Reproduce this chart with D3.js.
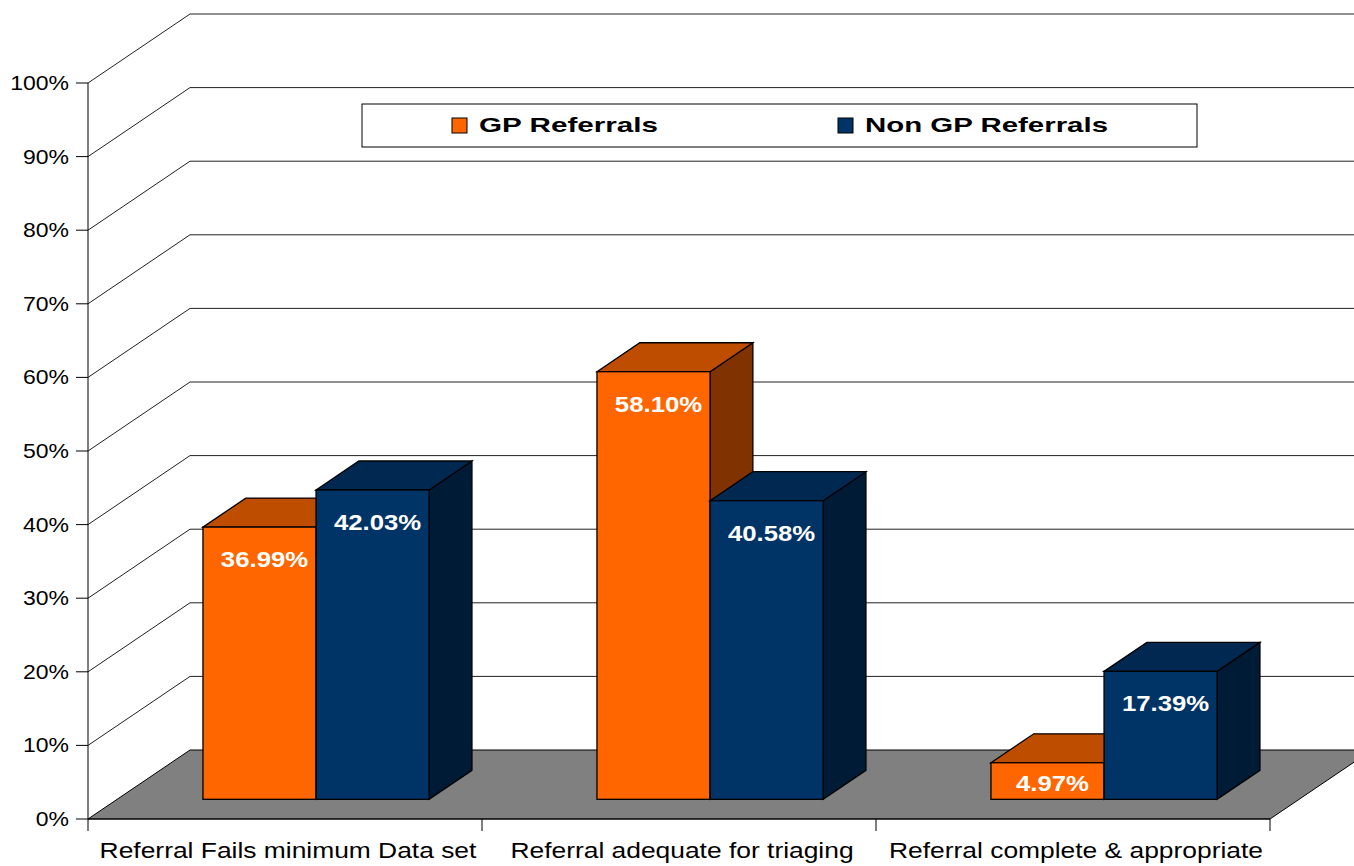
<!DOCTYPE html>
<html>
<head>
<meta charset="utf-8">
<title>GP vs Non GP Referrals</title>
<style>
  body { margin: 0; background: white; }
  text { font-family: "Liberation Sans", Arial, sans-serif; }
</style>
</head>
<body>
<svg id="viz"></svg>
<script src="https://d3js.org/d3.v7.min.js"></script>
<script>
// data
var categories = ["Referral Fails minimum Data set", "Referral adequate for triaging", "Referral complete & appropriate"];
var seriesNames = ["GP Referrals", "Non GP Referrals"];
var gpValues = [0.3699, 0.5810, 0.0497];
var nonGpValues = [0.4203, 0.4058, 0.1739];
var tickValues = [0, 0.1, 0.2, 0.3, 0.4, 0.5, 0.6, 0.7, 0.8, 0.9, 1.0];

var width = 1354, height = 866;

// colours per series: front, top, side
var colors = {
  "GP Referrals": {front: "#ff6600", top: "#bf4d00", side: "#803300"},
  "Non GP Referrals": {front: "#003366", top: "#002850", side: "#001b36"}
};

// depth of the 3d box (offset of the back wall)
var DX = 102, DY = 69;
var barFront = 0.285, barBack = 0.705;

var svg = d3.select("#viz").attr("width", width).attr("height", height);

var x = d3.scaleBand().domain(categories).range([88, 1270]);
var bw = x.bandwidth();
var x1 = d3.scaleBand().domain(seriesNames).range([bw * 0.218, bw * 0.792]);
var y = d3.scaleLinear().domain([0, 1]).range([819, 83]);

var rows = [];
categories.forEach(function(c, i) {
  rows.push({cat: c, series: seriesNames[0], value: gpValues[i]});
  rows.push({cat: c, series: seriesNames[1], value: nonGpValues[i]});
});

// gridlines: diagonal along left wall then flat across back wall
var grid = svg.append("g");
tickValues.forEach(function(t) {
  if (t === 0) return;
  var yy = y(t);
  grid.append("path")
    .attr("d", "M88," + yy + "L" + (88 + DX) + "," + (yy - DY) + "L" + (1270 + DX) + "," + (yy - DY))
    .attr("fill", "none")
    .attr("stroke", "#222")
    .attr("stroke-width", 1);
});

// floor
var y0 = y(0);
svg.append("path")
  .attr("d", "M88," + y0 + "L" + (88 + DX) + "," + (y0 - DY) + "L" + (1270 + DX) + "," + (y0 - DY) + "L1270," + y0 + "Z")
  .attr("fill", "#808080")
  .attr("stroke", "#000")
  .attr("stroke-width", 1);

// bars
var fdx = DX * barFront, fdy = DY * barFront;
var bdx = DX * (barBack - barFront), bdy = DY * (barBack - barFront);
var bw1 = x1.bandwidth();

var bars = svg.append("g").selectAll("g")
  .data(rows)
  .enter()
  .append("g");

bars.each(function(d) {
  var g = d3.select(this);
  var xa = x(d.cat) + x1(d.series) + fdx;
  var xb = xa + bw1;
  var yt = y(d.value) - fdy;
  var yb = y(0) - fdy;
  var c = colors[d.series];
  g.append("path")
    .attr("d", "M" + xb + "," + yt + "L" + (xb + bdx) + "," + (yt - bdy) + "L" + (xb + bdx) + "," + (yb - bdy) + "L" + xb + "," + yb + "Z")
    .attr("fill", c.side).attr("stroke", "#000").attr("stroke-width", 1.3);
  g.append("path")
    .attr("d", "M" + xa + "," + yt + "L" + (xa + bdx) + "," + (yt - bdy) + "L" + (xb + bdx) + "," + (yt - bdy) + "L" + xb + "," + yt + "Z")
    .attr("fill", c.top).attr("stroke", "#000").attr("stroke-width", 1.3);
  g.append("rect")
    .attr("x", xa).attr("y", yt)
    .attr("width", bw1).attr("height", yb - yt)
    .attr("fill", c.front).attr("stroke", "#000").attr("stroke-width", 1.3);
  var ly = Math.min(yt + 40, yb - 8);
  g.append("text")
    .attr("transform", "translate(" + (xa + bw1 / 2 + 5) + "," + ly + ") scale(1.17,1)")
    .attr("text-anchor", "middle")
    .style("font-size", "22px")
    .style("font-weight", "bold")
    .style("fill", "white")
    .text((d.value * 100).toFixed(2) + "%");
});

// y axis
svg.append("line")
  .attr("x1", 88).attr("x2", 88).attr("y1", y(1)).attr("y2", y(0))
  .attr("stroke", "#000");
var yt = svg.append("g").selectAll("g")
  .data(tickValues)
  .enter()
  .append("g");
yt.append("line")
  .attr("x1", 76).attr("x2", 88)
  .attr("y1", function(d) { return y(d); })
  .attr("y2", function(d) { return y(d); })
  .attr("stroke", "#000");
yt.append("text")
  .attr("transform", function(d) { return "translate(69," + (y(d) + 7) + ") scale(1.15,1)"; })
  .attr("text-anchor", "end")
  .style("font-size", "20px")
  .style("fill", "#000")
  .text(function(d) { return Math.round(d * 100) + "%"; });

// x axis
svg.append("line")
  .attr("x1", 88).attr("x2", 1270).attr("y1", y0).attr("y2", y0)
  .attr("stroke", "#000");
var xTicks = categories.map(function(c) { return x(c); }).concat([1270]);
svg.append("g").selectAll("line")
  .data(xTicks)
  .enter()
  .append("line")
  .attr("x1", function(d) { return d; }).attr("x2", function(d) { return d; })
  .attr("y1", y0).attr("y2", y0 + 12)
  .attr("stroke", "#000");
svg.append("g").selectAll("text")
  .data(categories)
  .enter()
  .append("text")
  .attr("transform", function(d) { return "translate(" + (x(d) + bw / 2 + 3) + ",858) scale(1.2,1)"; })
  .attr("text-anchor", "middle")
  .style("font-size", "22px")
  .style("fill", "#000")
  .text(function(d) { return d; });

// legend
var legend = svg.append("g");
legend.append("rect")
  .attr("x", 362).attr("y", 104).attr("width", 835).attr("height", 43)
  .attr("fill", "white").attr("stroke", "#000");
var legX = [452, 838];
var legW = [179, 243];
seriesNames.forEach(function(s, i) {
  legend.append("rect")
    .attr("x", legX[i]).attr("y", 118).attr("width", 15).attr("height", 15)
    .attr("fill", colors[s].front).attr("stroke", "#000");
  legend.append("text")
    .attr("x", legX[i] + 27).attr("y", 132)
    .attr("textLength", legW[i])
    .attr("lengthAdjust", "spacingAndGlyphs")
    .style("font-size", "21px")
    .style("font-weight", "bold")
    .style("fill", "#000")
    .text(s);
});
</script>
</body>
</html>
